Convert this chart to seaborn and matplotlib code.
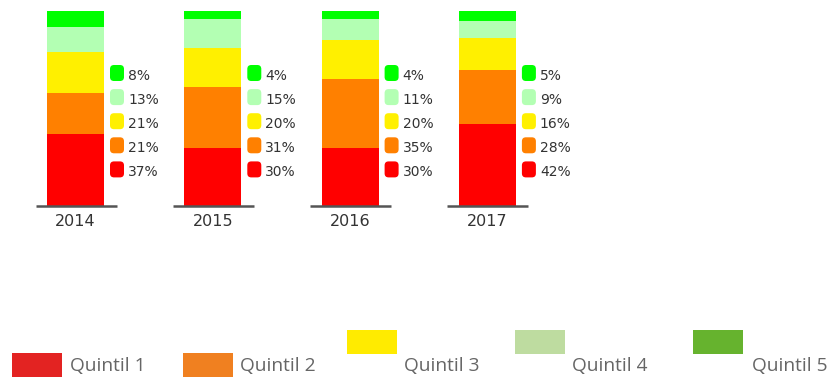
import numpy as np
import pandas as pd
import matplotlib
matplotlib.use("Agg")
import matplotlib.pyplot as plt
import seaborn as sns
from matplotlib.patches import FancyBboxPatch, Rectangle

# ---- data -------------------------------------------------------------
years = ["2014", "2015", "2016", "2017"]
quintiles = ["Quintil 1", "Quintil 2", "Quintil 3", "Quintil 4", "Quintil 5"]
q1 = [37, 30, 30, 42]
q2 = [21, 31, 35, 28]
q3 = [21, 20, 20, 16]
q4 = [13, 15, 11, 9]
q5 = [8, 4, 4, 5]

bar_colors = ["#FF0000", "#FF8000", "#FFF000", "#B3FFB3", "#00FF00"]
legend_colors = ["#E32322", "#F08020", "#FFEB00", "#BEDCA0", "#66B32E"]

values = np.array([q1, q2, q3, q4, q5])          # shape (quintile, year)
tops = values.cumsum(axis=0)

df = pd.DataFrame({
    "year": np.tile(years, len(quintiles)),
    "quintil": np.repeat(quintiles, len(years)),
    "value": values.ravel(),
    "top": tops.ravel(),
})

# ---- figure -----------------------------------------------------------
W, H = 831, 380
sns.set_theme(style="white")
plt.rcParams["font.family"] = ["DejaVu Sans"]
fig = plt.figure(figsize=(W / 100, H / 100), dpi=100)

# pixel geometry of the bar area
px_per_cat = 137.3
first_center = 75.5
base_px, top_px = 206, 11
bar_w = 57 / px_per_cat

ax = fig.add_axes([0, (H - base_px) / H, 1, (base_px - top_px) / H])

# stacked bars: draw cumulative tops from highest quintile down
for qi in range(len(quintiles) - 1, -1, -1):
    sub = df[df["quintil"] == quintiles[qi]]
    sns.barplot(data=sub, x="year", y="top", order=years, color=bar_colors[qi],
                width=bar_w, saturation=1, linewidth=0, ax=ax, errorbar=None)

ax.set_xlim(-first_center / px_per_cat, (W - first_center) / px_per_cat)
ax.set_ylim(0, 100)
ax.set_xlabel("")
ax.set_ylabel("")
ax.set_yticks([])
ax.tick_params(axis="x", length=0, pad=6, labelsize=11.5, labelcolor="#333333")
for s in ax.spines.values():
    s.set_visible(False)

# short baseline under each bar
ax.hlines([0] * len(years), np.arange(len(years)) - 40 / px_per_cat,
          np.arange(len(years)) + 41 / px_per_cat, color="#555555",
          linewidth=1.8, clip_on=False, zorder=5)

# ---- overlay in pixel coordinates for legends -------------------------
ov = fig.add_axes([0, 0, 1, 1], zorder=10)
ov.set_xlim(0, W)
ov.set_ylim(H, 0)
ov.axis("off")
ov.patch.set_alpha(0)

# per-bar value legends (top row = Quintil 5)
row_gap = 24.1
for yi, yr in enumerate(years):
    right = first_center + yi * px_per_cat + 28.5
    for r, qi in enumerate(range(len(quintiles) - 1, -1, -1)):
        cy = 73 + r * row_gap
        ov.add_patch(FancyBboxPatch((right + 6, cy - 8), 14, 16,
                                    boxstyle="round,pad=0,rounding_size=4",
                                    facecolor=bar_colors[qi], edgecolor="none"))
        ov.text(right + 24, cy + 3, f"{values[qi, yi]}%", fontsize=10,
                color="#333333", va="center", ha="left")

# bottom legend, staggered rows
leg_x = [12, 183, 347, 515, 693]
leg_y = [353, 353, 330, 330, 330]
txt_x = [70, 240, 404, 572, 752]
for i, name in enumerate(quintiles):
    ov.add_patch(Rectangle((leg_x[i], leg_y[i]), 50, 24,
                           facecolor=legend_colors[i], edgecolor="none"))
    ov.text(txt_x[i], 366, name, fontsize=13.8, color="#666666",
            va="center", ha="left", family=["Open Sans", "DejaVu Sans"])

fig.savefig("out.png", dpi=100)
